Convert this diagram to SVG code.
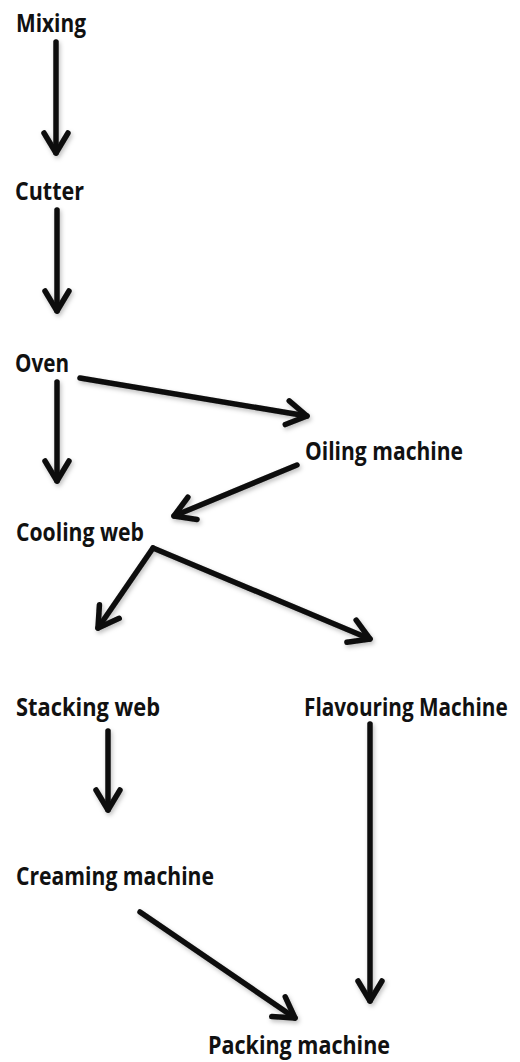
<svg xmlns="http://www.w3.org/2000/svg" width="520" height="1062" viewBox="0 0 520 1062">
  <style>
    .lbl { font-family: "Open Sans", "Liberation Sans", sans-serif; font-weight: 700; font-size: 25px; fill: #111; }
    .edge { fill: none; stroke: #0a0a0a; stroke-width: 5.5; stroke-linecap: round; stroke-linejoin: round; marker-end: url(#head); }
  </style>
  <defs>
    <marker id="head" markerUnits="userSpaceOnUse" viewBox="-26 -16 30 32" refX="0" refY="0" markerWidth="30" markerHeight="32" orient="auto">
      <path d="M-20,-12 L0,0 L-20,12" fill="none" stroke="#0a0a0a" stroke-width="5.5" stroke-linecap="round" stroke-linejoin="round"/>
    </marker>
    <filter id="shadow" x="-10%" y="-10%" width="120%" height="120%">
      <feDropShadow dx="1.5" dy="2.5" stdDeviation="2" flood-color="#000" flood-opacity="0.25"/>
    </filter>
  </defs>
  <rect width="520" height="1062" fill="#fff"/>

  <!-- process steps -->
  <g id="mixing"><text class="lbl" x="16" y="32" textLength="70" lengthAdjust="spacingAndGlyphs">Mixing</text></g>
  <g id="cutter"><text class="lbl" x="15" y="200" textLength="69" lengthAdjust="spacingAndGlyphs">Cutter</text></g>
  <g id="oven"><text class="lbl" x="15" y="372" textLength="54" lengthAdjust="spacingAndGlyphs">Oven</text></g>
  <g id="oiling"><text class="lbl" x="305" y="460" textLength="158" lengthAdjust="spacingAndGlyphs">Oiling machine</text></g>
  <g id="cooling"><text class="lbl" x="16" y="541" textLength="128" lengthAdjust="spacingAndGlyphs">Cooling web</text></g>
  <g id="stacking"><text class="lbl" x="16" y="716" textLength="144" lengthAdjust="spacingAndGlyphs">Stacking web</text></g>
  <!-- long label: squeezed horizontally so it stays inside the right edge -->
  <g id="flavouring" transform="translate(304,716) scale(0.83,1)"><text class="lbl" x="0" y="0">Flavouring Machine</text></g>
  <g id="creaming"><text class="lbl" x="16" y="885" textLength="198" lengthAdjust="spacingAndGlyphs">Creaming machine</text></g>
  <g id="packing"><text class="lbl" x="208" y="1054" textLength="182" lengthAdjust="spacingAndGlyphs">Packing machine</text></g>

  <!-- flow arrows -->
  <g id="connectors" filter="url(#shadow)">
    <path class="edge" d="M56,42 L56,153"/>
    <path class="edge" d="M57,210 L57,311"/>
    <path class="edge" d="M57,382 L57,481"/>
    <path class="edge" d="M80,378 L307,416"/>
    <path class="edge" d="M297,465 L174,516"/>
    <path class="edge" d="M153,548 L98,628"/>
    <path class="edge" d="M153,548 L370,639"/>
    <path class="edge" d="M108,731 L108,810"/>
    <path class="edge" d="M370,724 L370,1001"/>
    <path class="edge" d="M140,912 L295,1018"/>
  </g>
</svg>
